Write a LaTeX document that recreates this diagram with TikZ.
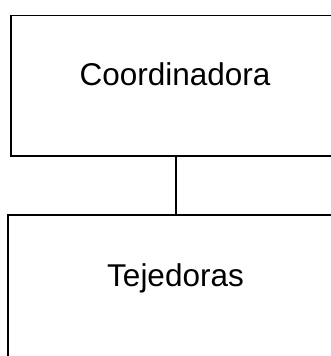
\documentclass[tikz,border=0pt]{standalone}
\usepackage{fontspec}
\setmainfont{Liberation Sans}
\begin{document}
\begin{tikzpicture}[x=1pt,y=1pt,
  box/.style={draw=black,line width=1.5pt,fill=white,rectangle,inner sep=0pt},
  lbl/.style={font=\fontsize{31.5}{36}\selectfont,anchor=base,inner sep=0pt},
  link/.style={draw=black,line width=1.5pt}]
\useasboundingbox[fill=white] (0,0) rectangle (331,356);
\node[box,minimum width=330pt,minimum height=140.5pt] (top) at (176,270.25) {};
\node[box,minimum width=336pt,minimum height=155pt] (bot) at (176,63.5) {};
\node[lbl] (coord) at (175,270) {Coordinadora};
\node[lbl] (tej) at (175.5,69) {Tejedoras};
\draw[link] (top.south) -- (bot.north);
\end{tikzpicture}
\end{document}
